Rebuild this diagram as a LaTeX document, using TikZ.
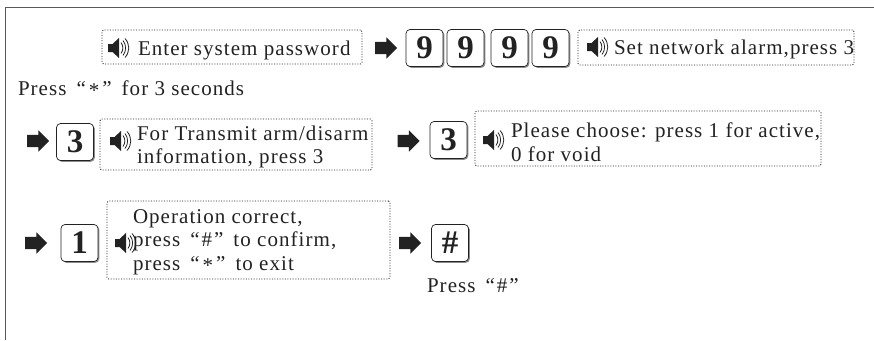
\documentclass[tikz,border=0pt]{standalone}
\usepackage{fontspec}
\setmainfont{Liberation Serif}[LetterSpace=5]
\newfontfamily\keyfont{Liberation Serif}[Scale=1]
\usetikzlibrary{shapes.arrows,shadows}
\definecolor{ink}{HTML}{222222}
\newcommand{\qstar}{“\hspace{3pt}\raisebox{-2pt}{*}\hspace{3pt}”}
\newcommand{\qhash}{“\hspace{2pt}\#\hspace{2pt}”}
\tikzset{
 x=1pt,y=-1pt,
 every node/.style={inner sep=0pt,outer sep=0pt,text=ink},
 lbl/.style={anchor=base west,font=\fontsize{21}{24}\selectfont},
 ml/.style={anchor=west,align=left,font=\fontsize{21}{23.5}\selectfont},
 keybox/.style={draw=ink,line width=0.7pt,rounded corners=4pt,minimum width=37pt,minimum height=37pt,fill=white,
   drop shadow={shadow xshift=1.3pt,shadow yshift=-1.3pt,fill=black!45,opacity=1},
   font=\keyfont\bfseries\fontsize{33}{33}\selectfont},
 dotbox/.style={draw=ink,line width=0.8pt,dash pattern=on 1pt off 1.6pt,rounded corners=1.5pt},
 blockarrow/.style={single arrow,fill=ink,draw=none,inner ysep=6pt,inner xsep=0pt,minimum height=22pt,single arrow head extend=4.5pt,single arrow tip angle=90,shape border rotate=0},
}
\newcommand{\spk}[2]{%
 \begin{scope}[shift={(#1,#2)}]
 \fill[ink] (0,-4)--(4.5,-4)--(11,-10)--(11,10)--(4.5,4)--(0,4)--cycle;
 \draw[ink,line width=0.8pt] (13,-5.5) .. controls (15.5,-2) and (15.5,2) .. (13,5.5);
 \draw[ink,line width=0.8pt] (15,-7.5) .. controls (18.5,-3) and (18.5,3) .. (15,7.5);
 \draw[ink,line width=0.8pt] (17,-9.5) .. controls (22,-4) and (22,4) .. (17,9.5);
 \end{scope}}
\begin{document}
\begin{tikzpicture}
\useasboundingbox (0,0) rectangle (874,340);
\draw[black!65,line width=1.2pt] (5.5,340) -- (5.5,7.5) -- (874,7.5);
% row 1
\node[dotbox,minimum width=260pt,minimum height=34pt] (b1) at (232,47) {};
\spk{108}{48}
\node[lbl] (t1) at (138,55) {Enter system password};
\node[blockarrow] (a1) at (383,48) {};
\node[keybox] (k1) at (424.5,48) {9};
\node[keybox] (k2) at (465.5,48) {9};
\node[keybox] (k3) at (509.5,48) {9};
\node[keybox] (k4) at (550.5,48) {9};
\node[dotbox,minimum width=276pt,minimum height=35pt] (b2) at (716,47.5) {};
\spk{587}{47}
\node[lbl] (t2) at (614,54) {Set network alarm,press 3};
\node[lbl] (t3) at (18,95) {Press\hspace{10pt}\qstar\hspace{10pt}for 3 seconds};
% row 2
\node[blockarrow] (a2) at (35,141) {};
\node[keybox] (k5) at (75,142) {3};
\node[dotbox,minimum width=272pt,minimum height=51pt] (b3) at (236,144.5) {};
\spk{110}{141}
\node[ml] (t4) at (137,147) {For Transmit arm/disarm\\information, press 3};
\node[blockarrow] (a3) at (405.5,141) {};
\node[keybox] (k6) at (448.5,140) {3};
\node[dotbox,minimum width=346pt,minimum height=55pt] (b4) at (648,138.5) {};
\spk{483}{140}
\node[ml] (t5) at (511,142) {Please choose: press 1 for active,\\0 for void};
% row 3
\node[blockarrow] (a4) at (33,243) {};
\node[keybox] (k7) at (79.5,243) {1};
\node[dotbox,minimum width=283pt,minimum height=78pt] (b5) at (248.5,240) {};
\spk{115}{243}
\node[ml] (t6) at (133,242) {Operation correct,\\press\hspace{10pt}\qhash\hspace{10pt}to confirm,\\press\hspace{10pt}\qstar\hspace{10pt}to exit};
\node[blockarrow] (a5) at (407,243) {};
\node[keybox] (k8) at (450,243) {\#};
\node[lbl] (t7) at (427,292) {Press\hspace{10pt}\qhash};
\end{tikzpicture}
\end{document}
